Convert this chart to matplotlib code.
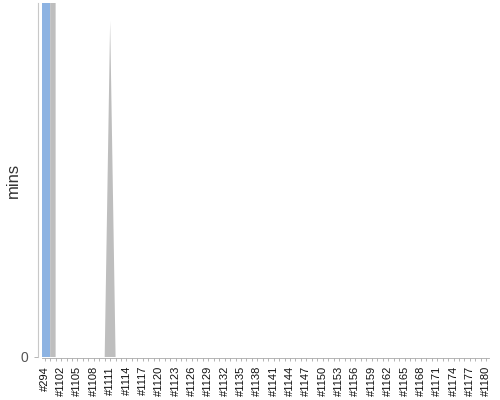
import numpy as np
import matplotlib
matplotlib.use('Agg')
import matplotlib.pyplot as plt

plt.rcParams['font.family'] = ['Liberation Sans', 'DejaVu Sans']

# build labels (first one is an old build, then a continuous run)
builds = ['#294'] + ['#%d' % n for n in range(1100, 1181)]

# build durations in minutes, split by result
success_mins = [52000.0] + [0.0] * 81
other_mins = [0.0, 52000.0] + [0.0] * 10 + [38.0] + [0.0] * 69


def edge_series(vals):
    # value at category centres, plus flat ends at the outer edges
    v = np.asarray(vals, dtype=float)
    x = np.concatenate([[-0.5], np.arange(len(v)), [len(v) - 0.5]])
    y = np.concatenate([[v[0]], v, [v[-1]]])
    return x, y


x, blue = edge_series(success_mins)
_, grey = edge_series(other_mins)
total = blue + grey

fig = plt.figure(figsize=(5, 4), dpi=100)
ax = fig.add_axes([0.084, 0.1075, 0.894, 0.885])

ax.fill_between(x, 0, blue, color='#8db3e2', linewidth=0)
ax.fill_between(x, blue, total, color='#bebebe', linewidth=0)

ax.set_xlim(-0.5, len(builds) - 0.5)
ax.set_ylim(0, 40)

ax.set_xticks(np.arange(len(builds)))
ax.set_xticklabels([b if i % 3 == 0 else '' for i, b in enumerate(builds)])
ax.tick_params(axis='x', length=2.5, width=0.6, color='#a8a8a8', pad=3,
               labelrotation=90, labelsize=8, labelcolor='#111111')

ax.set_yticks([0])
ax.set_yticklabels(['0'])
ax.tick_params(axis='y', length=3, width=0.6, color='#a8a8a8', pad=4,
               labelsize=10, labelcolor='#555555')

ax.set_ylabel('mins', fontsize=12, color='#333333')
ax.yaxis.set_label_coords(-0.048, 0.5)

for s in ['top', 'right']:
    ax.spines[s].set_visible(False)
ax.spines['left'].set_position(('outward', 3))
ax.spines['left'].set_color('#c8c8c8')
ax.spines['bottom'].set_position(('outward', 1))
ax.spines['bottom'].set_color('#a8a8a8')
ax.spines['left'].set_linewidth(0.8)
ax.spines['bottom'].set_linewidth(0.6)

fig.savefig('out.png', dpi=100)
